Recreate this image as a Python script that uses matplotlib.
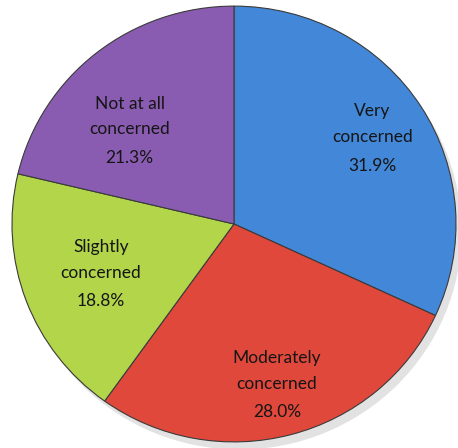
import numpy as np
import matplotlib.pyplot as plt
from matplotlib.patches import Ellipse

labels = ["Very\nconcerned", "Moderately\nconcerned", "Slightly\nconcerned", "Not at all\nconcerned"]
shares = [31.9, 28.0, 18.8, 21.3]
colors = ["#4388d8", "#e0483c", "#b2d54a", "#8a5cb1"]

# label placement: radius and angular nudge (degrees) per slice
label_radius = [0.74, 0.76, 0.64, 0.64]
label_nudge = [0, 0, 0, 9]

fig = plt.figure(figsize=(4.58, 4.48), dpi=100)
ax = fig.add_axes([0, 0, 1, 1])

# soft drop shadow under the pie
ax.add_patch(Ellipse((0.025, -0.035), 2.0, 2.0, color="#cfcfcf", alpha=0.6, zorder=0, lw=0))

wedges, texts, autotexts = ax.pie(
    shares, labels=labels, colors=colors, startangle=90, counterclock=False,
    autopct="%.1f%%", labeldistance=0.7, pctdistance=0.7,
    wedgeprops=dict(edgecolor="#3a3a3a", linewidth=0.8),
    textprops=dict(fontsize=12.5, family="Lato", color="#151515"),
)
for w, t, a, r, d in zip(wedges, texts, autotexts, label_radius, label_nudge):
    ang = np.deg2rad((w.theta1 + w.theta2) / 2 + d)
    x, y = r * np.cos(ang), r * np.sin(ang)
    t.set_ha("center")
    t.set_va("center")
    t.set_linespacing(1.75)
    t.set_position((x, y + 0.06))
    a.set_ha("center")
    a.set_va("center")
    a.set_position((x, y - 0.13))

ax.set_xlim(-1.054, 1.009)
ax.set_ylim(-1.028, 1.028)
ax.set_aspect("auto")
ax.axis("off")

fig.savefig("out.png", dpi=100)
